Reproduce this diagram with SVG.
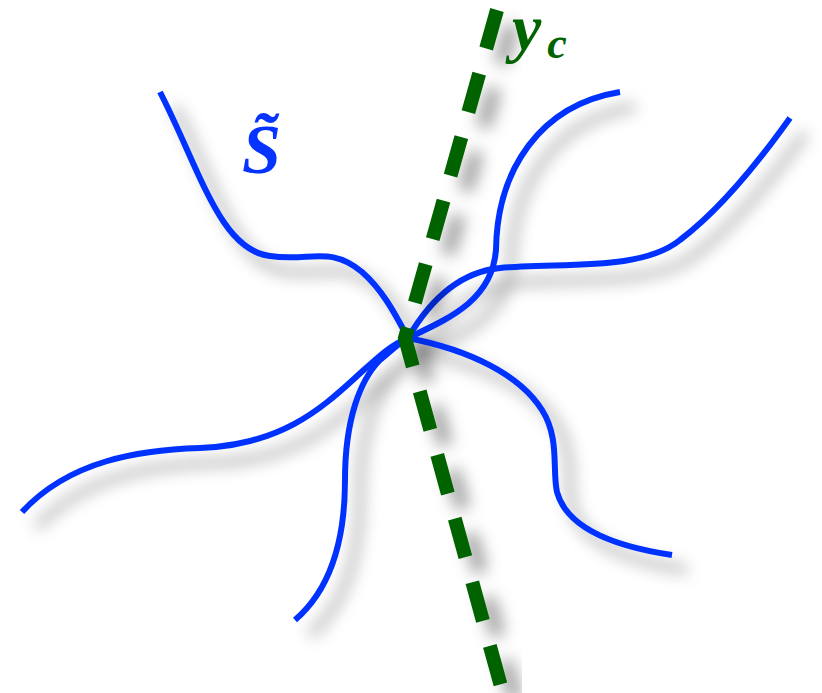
<svg xmlns="http://www.w3.org/2000/svg" width="822" height="693" viewBox="0 0 822 693">
<defs>
<filter id="sh" x="-20%" y="-20%" width="140%" height="140%">
<feDropShadow dx="15" dy="15" stdDeviation="8" flood-color="#000" flood-opacity="0.4"/>
</filter>
<style>
.c{fill:none;stroke:#0533ff;stroke-width:6}
.d{fill:none;stroke:#006400;stroke-width:14;stroke-dasharray:40 26}
.t{font-family:"Liberation Serif",serif;font-style:italic;font-weight:bold}
</style>
</defs>
<rect width="822" height="693" fill="#fff"/>
<g id="curves" filter="url(#sh)">
<path class="c" d="M160,92 C200,170 220,250 270,256 C310,262 330,245 362,272 C385,292 398,320 408,338 C470,350 520,375 542,410 C560,438 552,470 557,492 C566,525 605,545 672,555"/>
<path class="c" d="M22,512 C70,460 140,450 200,448 C280,445 320,410 355,378 C375,360 390,345 408,338 C430,300 460,272 500,268 C560,262 640,272 680,240 C720,210 760,160 790,118"/>
<path class="c" d="M295,620 C330,590 345,540 345,480 C345,420 360,380 380,360 C392,350 400,342 408,338 C450,318 492,300 496,250 C497,170 540,105 620,92"/>
</g>
<g id="yc-line" filter="url(#sh)">
<path class="d" d="M497,10 L405,338 L502,690"/>
</g>
<g id="label-S">
<text class="t" x="242" y="173" font-size="70" fill="#0533ff">S̃</text>
</g>
<g id="label-yc">
<text class="t" x="512" y="50" font-size="66" fill="#006400">y<tspan font-size="44" dx="6" dy="8">c</tspan></text>
</g>
</svg>
